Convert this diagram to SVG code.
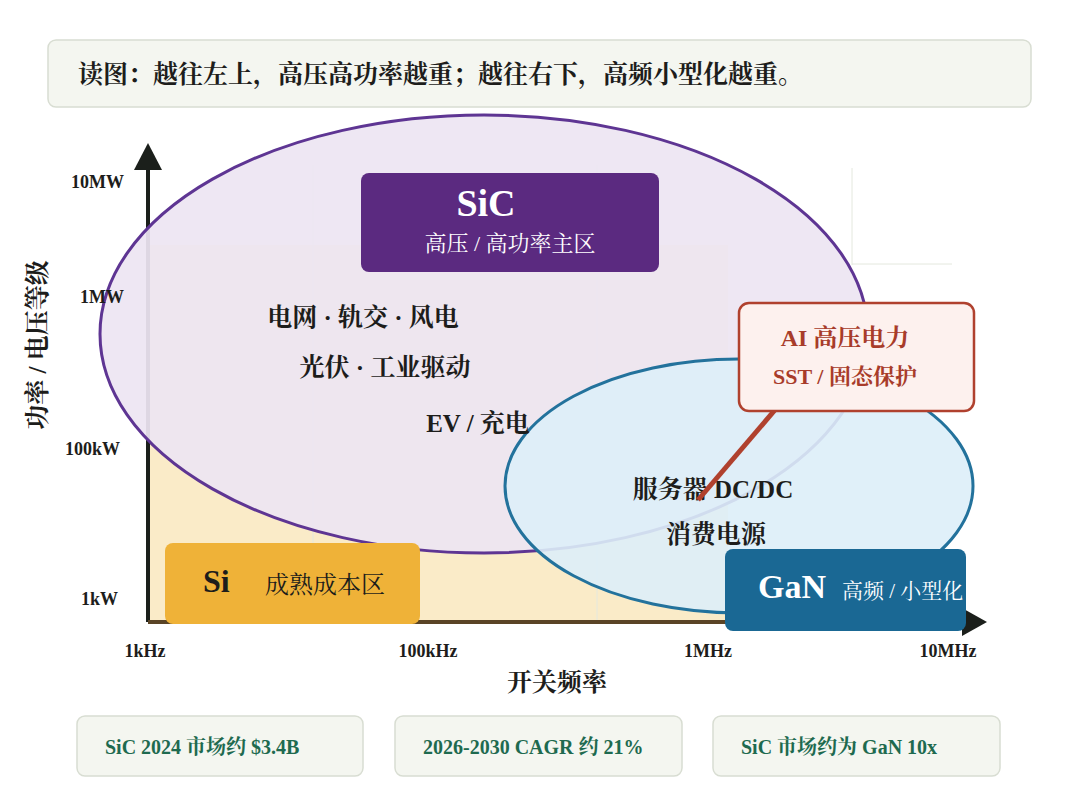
<svg xmlns="http://www.w3.org/2000/svg" width="1080" height="810" viewBox="0 0 1080 810">
<style>
text{font-family:"Liberation Serif","Noto Serif CJK SC","Noto Sans CJK SC",serif;font-weight:bold}
.lbl{font-size:25px;fill:#1d1d1b;text-anchor:middle}
.tick{font-size:18px;fill:#1d1d1b}
.foot{font-size:20px;fill:#1E6A4F}
.fbox{fill:#F4F6F0;stroke:#D8DDD2;stroke-width:1.5}
.grid{stroke:#E4E8DE;stroke-width:1;fill:none}
</style>
<rect width="1080" height="810" fill="#fff"/>
<g id="header"><rect class="fbox" x="48" y="40" width="983" height="67" rx="8"/>
<text x="78" y="83" style="font-size:25px;fill:#1d1d1b">读图：越往左上，高压高功率越重；越往右下，高频小型化越重。</text></g>
<g id="plot-bg">
<rect x="148" y="245" width="580" height="377" fill="#FAEBC8"/>
<path class="grid" d="M852 168V265M852 264H952M313 165V622M597 165V622"/>
</g>
<g id="axes" fill="none" stroke-width="4">
<path d="M148 622V168" stroke="#1b1f1b"/>
<path d="M148 622H965" stroke="#5a4426"/>
<path d="M148 143L134 170H162Z" fill="#1b1f1b" stroke="none"/>
<path d="M987 622L962 608V636Z" fill="#1b1f1b" stroke="none"/>
</g>
<g id="sic-zone"><ellipse cx="484" cy="334" rx="384" ry="219" fill="#EDE5F2" fill-opacity="0.93" stroke="#5E3593" stroke-width="3"/></g>
<g id="gan-zone"><ellipse cx="739" cy="486" rx="234" ry="127" fill="#DDEEF8" fill-opacity="0.9" stroke="#23729C" stroke-width="3"/></g>
<g id="ticks">
<text class="tick" x="124" y="188" text-anchor="end">10MW</text>
<text class="tick" x="124" y="303" text-anchor="end">1MW</text>
<text class="tick" x="120" y="455" text-anchor="end">100kW</text>
<text class="tick" x="118" y="605" text-anchor="end">1kW</text>
<text class="tick" x="145" y="657" text-anchor="middle">1kHz</text>
<text class="tick" x="428" y="657" text-anchor="middle">100kHz</text>
<text class="tick" x="708" y="657" text-anchor="middle">1MHz</text>
<text class="tick" x="948" y="657" text-anchor="middle">10MHz</text>
<text class="lbl" x="557" y="691">开关频率</text>
<text class="lbl" transform="translate(46 345) rotate(-90)">功率 / 电压等级</text>
</g>
<g id="sic-box"><rect x="361" y="173" width="298" height="99" rx="8" fill="#5B2A80"/>
<text x="486" y="216" text-anchor="middle" style="font-size:38px;fill:#fff">SiC</text>
<text x="510" y="251" text-anchor="middle" style="font-size:22px;fill:#fff;font-weight:normal">高压 / 高功率主区</text></g>
<g id="apps">
<text class="lbl" x="363" y="326">电网 · 轨交 · 风电</text>
<text class="lbl" x="385" y="376">光伏 · 工业驱动</text>
<text class="lbl" x="478" y="432">EV / 充电</text>
<text class="lbl" x="713" y="498">服务器 DC/DC</text>
<text class="lbl" x="716" y="543">消费电源</text>
</g>
<g id="si-box"><rect x="165" y="543" width="255" height="81" rx="8" fill="#EFB238"/>
<text x="203" y="592" style="font-size:32px;fill:#1d1d1b">Si</text>
<text x="265" y="593" style="font-size:24px;fill:#1d1d1b;font-weight:normal">成熟成本区</text></g>
<g id="gan-box"><rect x="725" y="549" width="241" height="82" rx="8" fill="#1A6894"/>
<text x="758" y="598" style="font-size:34px;fill:#fff">GaN</text>
<text x="842" y="598" style="font-size:21px;fill:#fff;font-weight:normal">高频 / 小型化</text></g>
<g id="connectors"><path d="M780 404L698 500" stroke="#B0412E" stroke-width="5" fill="none"/></g>
<g id="ai-box"><rect x="739" y="303" width="235" height="108" rx="10" fill="#FDF1EE" stroke="#B0412E" stroke-width="2.5"/>
<text x="845" y="346" text-anchor="middle" style="font-size:24px;fill:#A83C2A">AI 高压电力</text>
<text x="845" y="384" text-anchor="middle" style="font-size:22px;fill:#A83C2A">SST / 固态保护</text></g>
<g id="foot1"><rect class="fbox" x="77" y="716" width="286" height="60" rx="8"/><text class="foot" x="105" y="754">SiC 2024 市场约 $3.4B</text></g>
<g id="foot2"><rect class="fbox" x="395" y="716" width="287" height="60" rx="8"/><text class="foot" x="423" y="754">2026-2030 CAGR 约 21%</text></g>
<g id="foot3"><rect class="fbox" x="713" y="716" width="287" height="60" rx="8"/><text class="foot" x="741" y="754">SiC 市场约为 GaN 10x</text></g>
</svg>
